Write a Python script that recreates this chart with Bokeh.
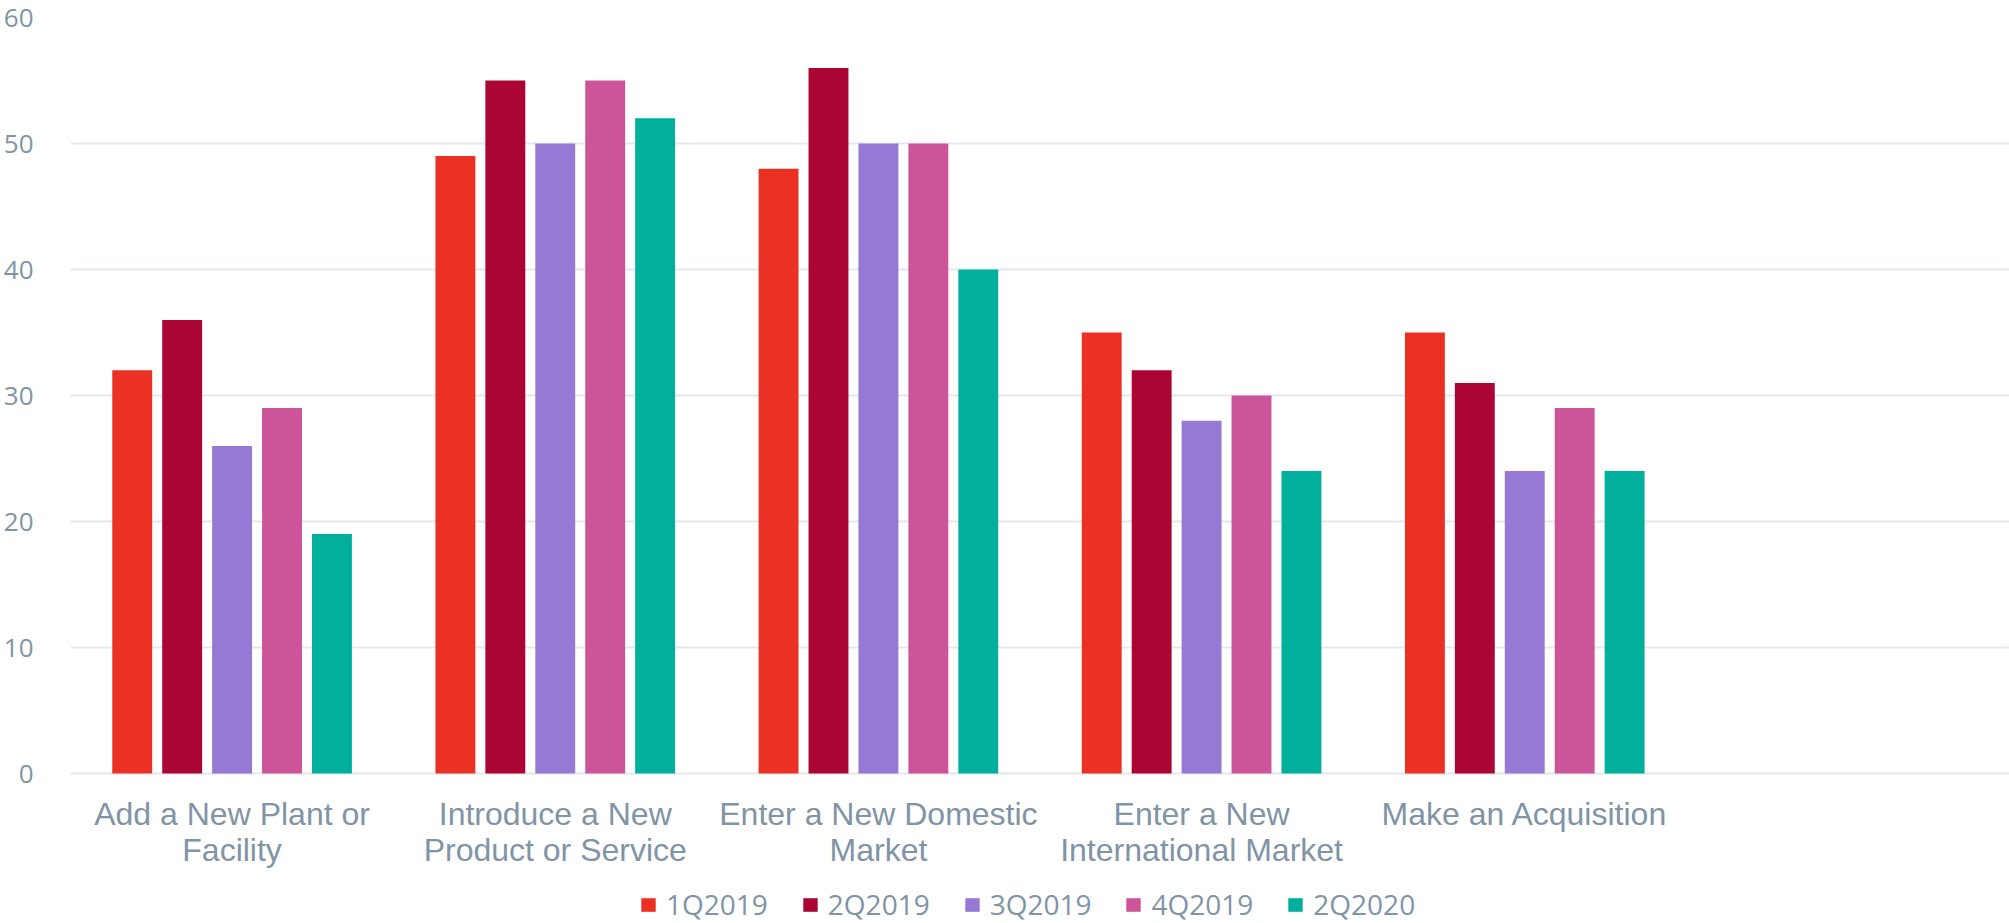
from bokeh.plotting import figure
from bokeh.models import ColumnDataSource, FactorRange, Range1d, Legend, LegendItem
from bokeh.transform import dodge
from bokeh.core.properties import value
from bokeh.embed import file_html
from bokeh.resources import INLINE

categories = ["Add a New Plant or\nFacility", "Introduce a New\nProduct or Service",
              "Enter a New Domestic\nMarket", "Enter a New\nInternational Market",
              "Make an Acquisition"]
series = ["1Q2019", "2Q2019", "3Q2019", "4Q2019", "2Q2020"]
q1_2019 = [32, 49, 48, 35, 35]
q2_2019 = [36, 55, 56, 32, 31]
q3_2019 = [26, 50, 50, 28, 24]
q4_2019 = [29, 55, 50, 30, 29]
q2_2020 = [19, 52, 40, 24, 24]
y_ticks = [0, 10, 20, 30, 40, 50, 60]

colors = ["#EB3024", "#AB0533", "#9679D4", "#CC5599", "#00AF9C"]

src = ColumnDataSource(dict(cat=categories, s0=q1_2019, s1=q2_2019, s2=q3_2019,
                            s3=q4_2019, s4=q2_2020, base=[0] * len(categories)))

TXT = "#8094a6"
W, H = 2009, 923
TOP, LEFT = 17, 66
DATA_PX = 756                      # pixel height of 0..60
ppu = DATA_PX / 60.0
y_start = -(H - TOP - DATA_PX) / ppu

p = figure(width=W, height=H, output_backend="svg", toolbar_location=None,
           x_range=FactorRange(factors=categories + [" "], range_padding=0),
           y_range=Range1d(y_start, 60))
p.min_border_left = LEFT
p.min_border_right = 0
p.min_border_top = TOP
p.min_border_bottom = 0
p.outline_line_color = None
p.background_fill_color = "white"
p.xaxis.visible = False

offsets = [-0.309, -0.1545, 0, 0.1545, 0.309]
items = []
for i, (name, col) in enumerate(zip(series, colors)):
    r = p.vbar(x=dodge("cat", offsets[i], range=p.x_range), top=f"s{i}", width=0.1235,
               source=src, fill_color=col, line_color=None)
    items.append(LegendItem(label=name, renderers=[r]))

# category labels under the baseline
p.text(x="cat", y="base", text="cat", source=src, text_align="center", text_baseline="top",
       y_offset=22, text_font=value("Liberation Sans"), text_font_size=value("32px"),
       text_color=TXT, text_line_height=1.0)

p.xgrid.grid_line_color = None
p.ygrid.grid_line_color = "#e4e8ee"
p.ygrid.grid_line_width = 2
p.yaxis.ticker = y_ticks
p.yaxis.axis_line_color = None
p.yaxis.major_tick_line_color = None
p.yaxis.minor_tick_line_color = None
p.yaxis.major_label_standoff = 31
p.yaxis.major_label_text_font = "Open Sans"
p.yaxis.major_label_text_font_size = "26px"
p.yaxis.major_label_text_color = TXT

legend = Legend(items=items, orientation="horizontal", location=(569, 0),
                glyph_width=18, glyph_height=17, label_text_font="Open Sans",
                label_text_font_size="28px", label_text_color=TXT, spacing=33,
                label_standoff=9, border_line_color=None, background_fill_alpha=0,
                padding=0, margin=0, label_height=17)
p.add_layout(legend, "center")

open("out.html", "w").write(file_html(p, INLINE))
